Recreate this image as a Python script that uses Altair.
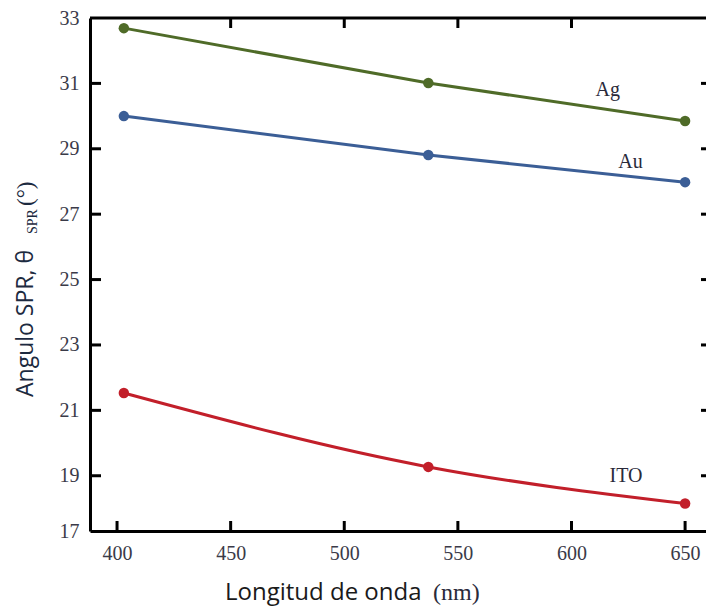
import altair as alt
import pandas as pd

# ---- data ----
wavelength = [403, 537, 650]
ag = [32.69, 31.01, 29.85]
au = [30.00, 28.81, 27.98]
ito = [21.53, 19.27, 18.15]
series = ["Ag", "Au", "ITO"]
colors = ["#4f6b28", "#3b5e96", "#c21f2a"]

label_text = ["Ag", "Au", "ITO"]
label_x = [616, 626, 624]
label_y = [30.80, 28.60, 19.00]

x_ticks = [400, 450, 500, 550, 600, 650]
x_top_ticks = [450, 500, 550, 600]
y_ticks = [19, 21, 23, 25, 27, 29, 31]
y_label_values = [17.31, 19, 21, 23, 25, 27, 29, 31, 33]

X_DOMAIN = [388.1, 659.2]
Y_DOMAIN = [17.31, 33]
W, H = 616, 513

rows = []
for s, vals in zip(series, [ag, au, ito]):
    for w, v in zip(wavelength, vals):
        rows.append({"serie": s, "wl": w, "ang": v})
df = pd.DataFrame(rows)
labels_df = pd.DataFrame({"t": label_text, "wl": label_x, "ang": label_y})

LABEL_COLOR = "#3a3a48"
SERIF = "Liberation Serif"


def xenc(field):
    return alt.X(
        f"{field}:Q",
        scale=alt.Scale(domain=X_DOMAIN, nice=False, zero=False),
        axis=alt.Axis(values=x_ticks, ticks=False, grid=False, domain=True,
                      domainWidth=3, domainColor="black", labelFont=SERIF,
                      labelFontSize=20, labelColor=LABEL_COLOR, labelPadding=12,
                      labelFlush=False, labelOverlap=False, title=None),
    )


def yenc(field):
    return alt.Y(
        f"{field}:Q",
        scale=alt.Scale(domain=Y_DOMAIN, nice=False, zero=False),
        axis=alt.Axis(values=y_label_values, format="d", ticks=False, grid=False,
                      domain=True, domainWidth=3, domainColor="black",
                      labelFont=SERIF, labelFontSize=20,
                      labelColor=LABEL_COLOR, labelPadding=11, labelFlush=False,
                      labelOverlap=False, title=None),
    )


color = alt.Color("serie:N", scale=alt.Scale(domain=series, range=colors), legend=None)

base = alt.Chart(df)
lines_straight = base.transform_filter(alt.datum.serie != "ITO").mark_line(
    strokeWidth=3).encode(x=xenc("wl"), y=yenc("ang"), color=color, detail="serie:N")
line_ito = base.transform_filter(alt.datum.serie == "ITO").mark_line(
    strokeWidth=3, interpolate="monotone").encode(x=xenc("wl"), y=yenc("ang"), color=color)
points = base.mark_circle(size=110, opacity=1).encode(x=xenc("wl"), y=yenc("ang"), color=color)

series_labels = alt.Chart(labels_df).mark_text(
    font=SERIF, fontSize=20, color="#2a2a3a").encode(
    x=xenc("wl"), y=yenc("ang"), text="t:N")

# inward ticks
tdf_bottom = pd.DataFrame({"v": x_ticks})
tdf_top = pd.DataFrame({"v": x_top_ticks})
tdf_y = pd.DataFrame({"v": y_ticks})
bottom_ticks = alt.Chart(tdf_bottom).mark_rule(color="black", strokeWidth=3).encode(
    x=xenc("v"), y=alt.value(H), y2=alt.value(H - 10))
top_ticks = alt.Chart(tdf_top).mark_rule(color="black", strokeWidth=3).encode(
    x=xenc("v"), y=alt.value(0), y2=alt.value(10))
left_ticks = alt.Chart(tdf_y).mark_rule(color="black", strokeWidth=3).encode(
    y=yenc("v"), x=alt.value(0), x2=alt.value(11))
right_ticks = alt.Chart(tdf_y).mark_rule(color="black", strokeWidth=3).encode(
    y=yenc("v"), x=alt.value(W - 5), x2=alt.value(W))
top_frame = alt.Chart(pd.DataFrame({"a": [0]})).mark_rule(color="black", strokeWidth=3).encode(
    y=alt.value(0), x=alt.value(0), x2=alt.value(W))

# titles (mixed fonts)
one = pd.DataFrame({"a": [0]})
ytitle_main = alt.Chart(one).mark_text(
    text="Angulo SPR, θ", angle=270, align="left", baseline="alphabetic",
    font="Open Sans", fontSize=23, color="#1c2a40").encode(
    x=alt.value(-57), y=alt.value(379))
ytitle_sub = alt.Chart(one).mark_text(
    text="SPR", angle=270, align="left", baseline="alphabetic",
    font=SERIF, fontSize=14, color="#1c2a40").encode(
    x=alt.value(-53), y=alt.value(216))
ytitle_deg = alt.Chart(one).mark_text(
    text="(°)", angle=270, align="left", baseline="alphabetic",
    font=SERIF, fontSize=23, color="#1c2a40").encode(
    x=alt.value(-57), y=alt.value(188))
xtitle_main = alt.Chart(one).mark_text(
    text="Longitud de onda", align="left", baseline="alphabetic",
    font="Open Sans", fontSize=24, color="#1a1a1a").encode(
    x=alt.value(135), y=alt.value(582))
xtitle_unit = alt.Chart(one).mark_text(
    text="(nm)", align="left", baseline="alphabetic",
    font=SERIF, fontSize=24, color="#2a2a3a").encode(
    x=alt.value(343), y=alt.value(582))

chart = alt.layer(
    lines_straight, line_ito, points, series_labels,
    bottom_ticks, top_ticks, left_ticks, right_ticks, top_frame,
    ytitle_main, ytitle_sub, ytitle_deg, xtitle_main, xtitle_unit,
).properties(
    width=W, height=H,
    autosize=alt.AutoSizeParams(type="none"),
    padding={"left": 90, "top": 18, "right": 0, "bottom": 79},
    background="white",
).configure_view(stroke=None).configure_axis(
    labelFont=SERIF, labelFontSize=20, labelColor=LABEL_COLOR)

chart.save("out.html", embed_options={"renderer": "svg", "actions": False})
